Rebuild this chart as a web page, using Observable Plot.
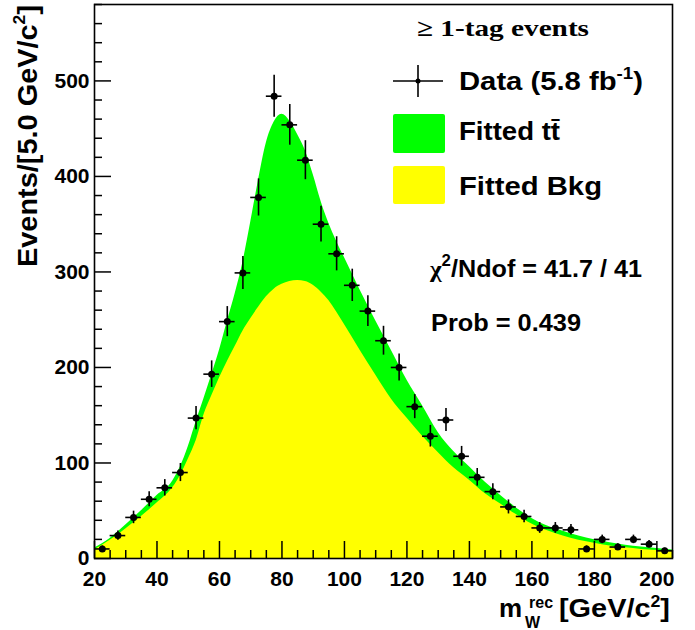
<!DOCTYPE html>
<html>
<head>
<meta charset="utf-8">
<script src="https://cdn.jsdelivr.net/npm/d3@7"></script>
<script src="https://cdn.jsdelivr.net/npm/@observablehq/plot@0.6"></script>
<style>
  html, body { margin: 0; padding: 0; background: #fff; }
  #chart svg { display: block; }
</style>
</head>
<body>
<div id="chart"></div>
<script>
// Bin centres (5 GeV bins) and observed counts
const binCenters = [22.5, 27.5, 32.5, 37.5, 42.5, 47.5, 52.5, 57.5, 62.5, 67.5, 72.5, 77.5, 82.5, 87.5, 92.5, 97.5, 102.5, 107.5, 112.5, 117.5, 122.5, 127.5, 132.5, 137.5, 142.5, 147.5, 152.5, 157.5, 162.5, 167.5, 172.5, 177.5, 182.5, 187.5, 192.5, 197.5, 202.5];
const dataCounts = [10, 24, 43, 62, 74, 90, 147, 193, 248, 299, 378, 484, 454, 417, 350, 319, 286, 259, 228, 200, 159, 128, 145, 107, 85, 70, 54, 44, 32, 32, 30, 10, 20, 12, 20, 15, 8];
const binHalfWidth = 2.5;

// Fitted curves
const curveX = [20, 25, 30, 35, 40, 45, 47.5, 50, 52.5, 55, 57.5, 60, 62.5, 65, 67.5, 70, 72.5, 75, 77.5, 80, 82.5, 85, 87.5, 90, 92.5, 95, 97.5, 100, 105, 110, 115, 120, 125, 130, 135, 140, 145, 150, 155, 160, 165, 170, 175, 180, 185, 190, 195, 200, 205];
const fittedTotal = [11, 21, 35, 50, 66, 81, 96, 117, 143, 167, 192, 218, 248, 277, 310, 352, 396, 435, 457, 465, 458, 444, 427, 402, 374, 351, 332, 315, 281, 249, 218, 187, 160, 132, 112, 96, 80, 66, 53, 42, 34, 28.5, 23.5, 19.5, 16.5, 14, 12, 10.5, 9];
const fittedBkg = [9, 19, 31, 44, 58, 74, 87, 104, 123, 150, 170, 189, 206, 222, 238, 251, 263, 274, 282, 287, 290, 291, 290, 286, 279, 270, 258, 245, 218, 192, 167, 147, 128, 111, 95, 82, 68, 57, 46, 36, 29, 23.5, 19, 16, 13, 11.2, 9.5, 8.3, 7.3];

// Axis ticks
const xTickLabels = [20, 40, 60, 80, 100, 120, 140, 160, 180, 200];
const xMinorTicks = d3.range(25, 206, 5).filter(v => v % 20 !== 0);
const yTickLabels = [0, 100, 200, 300, 400, 500];
const yMinorTicks = d3.range(20, 581, 20).filter(v => v % 100 !== 0);

const points = binCenters.map((x, i) => ({x, n: dataCounts[i], err: Math.sqrt(dataCounts[i])}));
const curve = curveX.map((x, i) => ({x, total: fittedTotal[i], bkg: fittedBkg[i]}));

const W = 695, H = 630, mL = 94, mR = 23, mT = 4, mB = 72;
const innerW = W - mL - mR, innerH = H - mT - mB;
const font = "'Liberation Sans', Arial, Helvetica, sans-serif";
const serif = "'Liberation Serif', 'Times New Roman', serif";

const chart = Plot.plot({
  width: W, height: H,
  marginLeft: mL, marginRight: mR, marginTop: mT, marginBottom: mB,
  style: {fontFamily: font, fontWeight: "bold", color: "black", background: "white"},
  x: {domain: [20, 205], label: null},
  y: {domain: [0, 580], label: null},
  marks: [
    Plot.areaY(curve, {x: "x", y: "total", fill: "#00ff00", curve: "monotone-x"}),
    Plot.areaY(curve, {x: "x", y: "bkg", fill: "#ffff00", curve: "monotone-x"}),
    Plot.tickX(xTickLabels, {x: d => d, insetTop: innerH - 17, stroke: "black", strokeWidth: 1.5}),
    Plot.tickX(xMinorTicks, {x: d => d, insetTop: innerH - 8, stroke: "black", strokeWidth: 1.5}),
    Plot.tickY(yTickLabels, {y: d => d, insetRight: innerW - 17, stroke: "black", strokeWidth: 1.5}),
    Plot.tickY(yMinorTicks, {y: d => d, insetRight: innerW - 8, stroke: "black", strokeWidth: 1.5}),
    Plot.axisX({ticks: xTickLabels, tickSize: 0, tickPadding: 13, fontSize: 21, fontWeight: "bold", label: null}),
    Plot.axisY({ticks: yTickLabels, tickSize: 0, tickPadding: 5, fontSize: 21, fontWeight: "bold", label: null}),
    Plot.ruleX(points, {x: "x", y1: d => d.n - d.err, y2: d => d.n + d.err, stroke: "black", strokeWidth: 1.6}),
    Plot.ruleY(points, {y: "n", x1: d => d.x - binHalfWidth, x2: d => d.x + binHalfWidth, stroke: "black", strokeWidth: 1.6}),
    Plot.dot(points, {x: "x", y: "n", r: 3.5, fill: "black", stroke: "none"}),
    Plot.frame({stroke: "black", strokeWidth: 1.6})
  ]
});
document.getElementById("chart").appendChild(chart);

// Annotations: titles, legend, fit statistics
const svg = d3.select(chart);
const g = svg.append("g").attr("font-family", font).attr("font-weight", "bold").attr("fill", "black");

function addText(x, y, parts, {size = 25, family = null, anchor = "start", length = null, transform = null} = {}) {
  const t = g.append("text").attr("x", x).attr("y", y).attr("font-size", size).attr("text-anchor", anchor);
  if (family) t.attr("font-family", family);
  if (transform) t.attr("transform", transform).attr("x", 0).attr("y", 0);
  parts.forEach(p => {
    const s = t.append("tspan").text(p.t);
    if (p.size) s.attr("font-size", p.size);
    if (p.dy) s.attr("dy", p.dy);
    if (p.family) s.attr("font-family", p.family);
  });
  if (length) t.attr("textLength", length).attr("lengthAdjust", "spacingAndGlyphs");
  return t;
}

// Y axis title
addText(0, 0, [{t: "Events/[5.0 GeV/c"}, {t: "2", size: 17, dy: -12}, {t: "]", dy: 12}],
  {size: 28, anchor: "end", transform: "translate(37,5) rotate(-90)", length: 262});

// X axis title
addText(499, 617, [{t: "m"}], {size: 26});
addText(529, 608, [{t: "rec"}], {size: 16});
addText(525, 628, [{t: "W"}], {size: 16});
addText(559, 617, [{t: "[GeV/c"}, {t: "2", size: 16, dy: -10}, {t: "]", dy: 10}], {size: 26, length: 111});

// Legend
addText(417, 36, [{t: "≥ 1-tag events"}], {size: 24, family: serif, length: 172});
g.append("line").attr("x1", 393).attr("x2", 443).attr("y1", 81).attr("y2", 81).attr("stroke", "black").attr("stroke-width", 1.6);
g.append("line").attr("x1", 418).attr("x2", 418).attr("y1", 65).attr("y2", 97).attr("stroke", "black").attr("stroke-width", 1.6);
g.append("circle").attr("cx", 418).attr("cy", 81).attr("r", 2.5).attr("fill", "black");
addText(459, 90, [{t: "Data (5.8 fb"}, {t: "-1", size: 16, dy: -11}, {t: ")", dy: 11}], {size: 25, length: 184});
g.append("rect").attr("x", 393).attr("y", 114).attr("width", 52).attr("height", 39).attr("rx", 2).attr("fill", "#00ff00");
addText(459, 140, [{t: "Fitted tt\u0304"}], {size: 25, length: 101});
g.append("rect").attr("x", 393).attr("y", 166).attr("width", 52).attr("height", 38).attr("rx", 2).attr("fill", "#ffff00");
addText(459, 195, [{t: "Fitted Bkg"}], {size: 25, length: 143});

// Fit statistics
addText(430, 277, [{t: "χ", family: serif}, {t: "2", size: 16, dy: -11}, {t: "/Ndof = 41.7 / 41", dy: 11}], {size: 24, length: 212});
addText(431, 331, [{t: "Prob = 0.439"}], {size: 24, length: 150});
</script>
</body>
</html>
